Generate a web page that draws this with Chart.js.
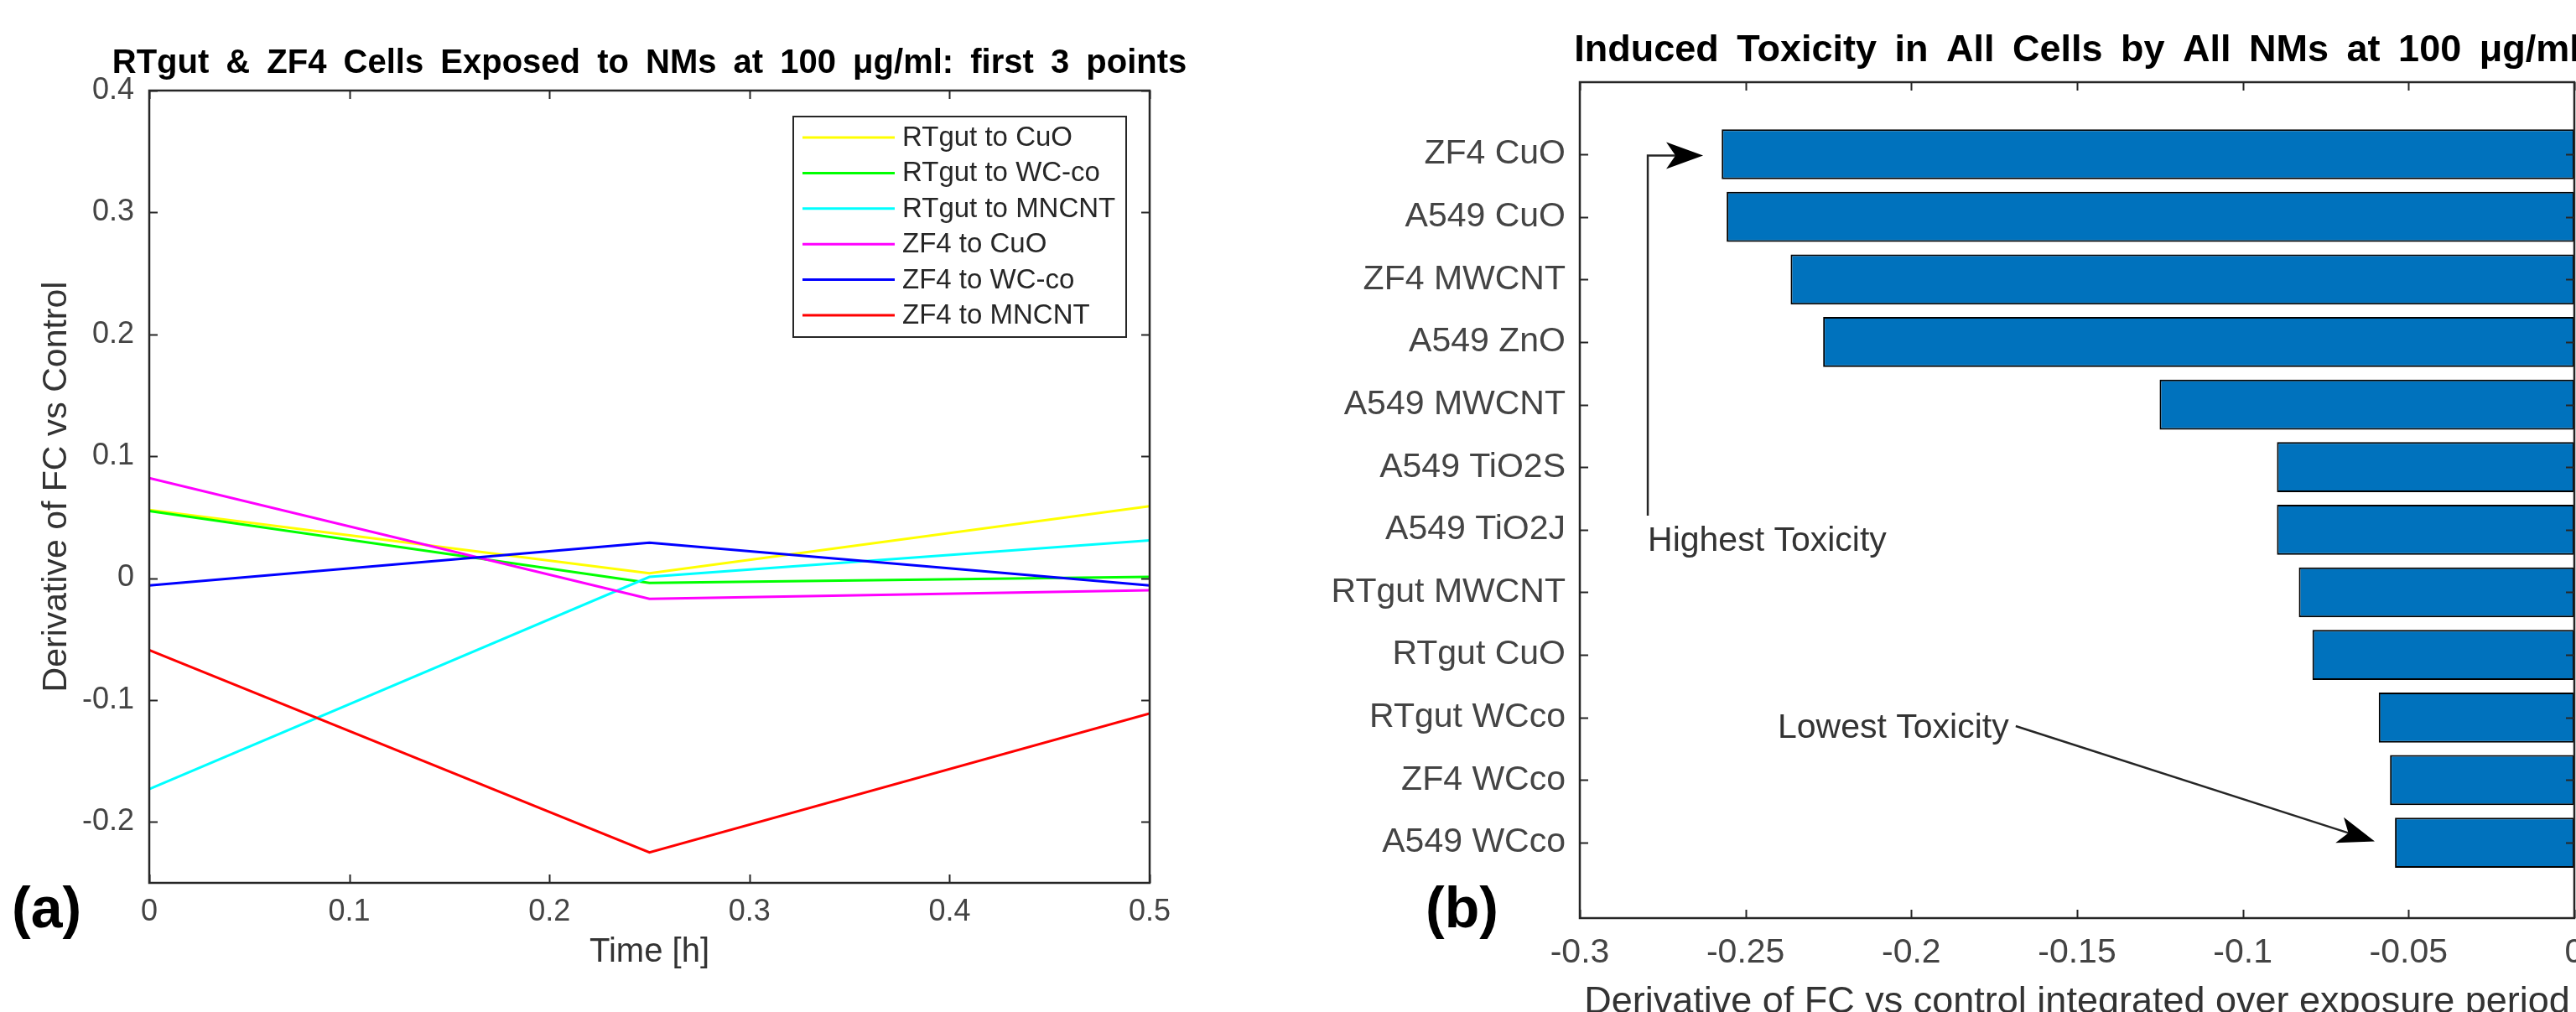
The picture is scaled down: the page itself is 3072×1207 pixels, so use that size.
<!DOCTYPE html>
<html><head><meta charset="utf-8">
<script src="https://cdn.jsdelivr.net/npm/chart.js@4.4.1/dist/chart.umd.min.js"></script>
<style>
html,body{margin:0;padding:0;background:#fff;overflow:hidden;width:3072px;height:1207px;position:relative;}
#wrapA{position:absolute;left:0;top:0;width:1450px;height:1300px;}
#wrapB{position:absolute;left:1480px;top:0;width:1720px;height:1300px;}
canvas{display:block;}
</style></head><body>
<div id="wrapA"><canvas id="cA" width="1450" height="1300"></canvas></div>
<div id="wrapB"><canvas id="cB" width="1720" height="1300"></canvas></div>
<script>
// ---------- data: panel (a) ----------
const timePoints = [0, 0.25, 0.5];
const seriesLabels = ['RTgut to CuO', 'RTgut to WC-co', 'RTgut to MNCNT', 'ZF4 to CuO', 'ZF4 to WC-co', 'ZF4 to MNCNT'];
const rtgutCuO   = [0.056, 0.004, 0.059];
const rtgutWCco  = [0.055, -0.004, 0.001];
const rtgutMNCNT = [-0.173, 0.001, 0.031];
const zf4CuO     = [0.082, -0.017, -0.010];
const zf4WCco    = [-0.006, 0.029, -0.006];
const zf4MNCNT   = [-0.059, -0.225, -0.111];
const lineColors = ['#ffff00', '#00ff00', '#00ffff', '#ff00ff', '#0000ff', '#ff0000'];
const xTicksA = [0, 0.1, 0.2, 0.3, 0.4, 0.5];
const xTickLabelsA = ['0', '0.1', '0.2', '0.3', '0.4', '0.5'];
const yTicksA = [-0.2, -0.1, 0, 0.1, 0.2, 0.3, 0.4];
const yTickLabelsA = ['-0.2', '-0.1', '0', '0.1', '0.2', '0.3', '0.4'];

// ---------- data: panel (b) ----------
const categories = ['ZF4 CuO', 'A549 CuO', 'ZF4 MWCNT', 'A549 ZnO', 'A549 MWCNT', 'A549 TiO2S', 'A549 TiO2J', 'RTgut MWCNT', 'RTgut CuO', 'RTgut WCco', 'ZF4 WCco', 'A549 WCco'];
const toxicity = [-0.2572, -0.2557, -0.2364, -0.2266, -0.1251, -0.0897, -0.0897, -0.0831, -0.0790, -0.0590, -0.0556, -0.0541];
const xTicksB = [-0.3, -0.25, -0.2, -0.15, -0.1, -0.05, 0];
const xTickLabelsB = ['-0.3', '-0.25', '-0.2', '-0.15', '-0.1', '-0.05', '0'];

// ---------- styling ----------
Chart.defaults.font.family = "'Liberation Sans', Arial, Helvetica, sans-serif";
Chart.defaults.color = '#444';
Chart.defaults.animation = false;
const FONT = "'Liberation Sans', Arial, Helvetica, sans-serif";
const AXIS_COLOR = '#262626';

// axes box with inward ticks (MATLAB style)
const framePlugin = {
  id: 'frame',
  afterDatasetsDraw(chart, args, opts) {
    const {ctx, chartArea: a, scales} = chart;
    const tl = opts.tickLen || 10;
    ctx.save();
    ctx.strokeStyle = AXIS_COLOR;
    ctx.lineWidth = 2;
    ctx.beginPath();
    scales.x.ticks.forEach(t => {
      const px = Math.round(scales.x.getPixelForValue(t.value)) + 0.5;
      ctx.moveTo(px, a.bottom); ctx.lineTo(px, a.bottom - tl);
      ctx.moveTo(px, a.top); ctx.lineTo(px, a.top + tl);
    });
    scales.y.ticks.forEach(t => {
      const py = Math.round(scales.y.getPixelForValue(t.value)) + 0.5;
      ctx.moveTo(a.left, py); ctx.lineTo(a.left + tl, py);
      ctx.moveTo(a.right, py); ctx.lineTo(a.right - tl, py);
    });
    ctx.stroke();
    ctx.lineWidth = 2.5;
    ctx.strokeRect(a.left, a.top, a.right - a.left, a.bottom - a.top);
    ctx.restore();
  }
};

function drawTitle(ctx, text, x, y, size, spacing) {
  ctx.save();
  ctx.font = 'bold ' + size + 'px ' + FONT;
  ctx.fillStyle = '#000';
  ctx.textAlign = 'center';
  ctx.textBaseline = 'alphabetic';
  if ('wordSpacing' in ctx) ctx.wordSpacing = spacing + 'px';
  ctx.fillText(text, x, y);
  ctx.restore();
}
function drawPanelLabel(ctx, text, x, y) {
  ctx.save();
  ctx.font = 'bold 68px ' + FONT;
  ctx.fillStyle = '#000';
  ctx.textAlign = 'left';
  ctx.textBaseline = 'alphabetic';
  ctx.fillText(text, x, y);
  ctx.restore();
}
function arrowHead(ctx, x0, y0, x1, y1) {
  const ang = Math.atan2(y1 - y0, x1 - x0);
  ctx.save();
  ctx.translate(x1, y1);
  ctx.rotate(ang);
  ctx.beginPath();
  ctx.moveTo(0, 0);
  ctx.lineTo(-44, -16);
  ctx.lineTo(-33, 0);
  ctx.lineTo(-44, 16);
  ctx.closePath();
  ctx.fillStyle = '#000';
  ctx.fill();
  ctx.restore();
}

// ---------- panel (a) ----------
const seriesA = [rtgutCuO, rtgutWCco, rtgutMNCNT, zf4CuO, zf4WCco, zf4MNCNT];
const dsA = seriesA.map((arr, i) => ({
  label: seriesLabels[i],
  data: timePoints.map((t, j) => ({x: t, y: arr[j]})),
  borderColor: lineColors[i],
  backgroundColor: lineColors[i],
  borderWidth: 3,
  pointRadius: 0,
  tension: 0,
  fill: false,
  order: seriesA.length - 1 - i
}));

const legendBoxA = {x: 946, y: 139, w: 397, h: 263, firstRow: 164, rowH: 42.4, lineX0: 957, lineX1: 1067, textX: 1076, size: 33};

const decoA = {
  id: 'decoA',
  afterDraw(chart) {
    const {ctx, chartArea: a} = chart;
    drawTitle(ctx, 'RTgut & ZF4 Cells Exposed to NMs at 100 \u03bcg/ml: first 3 points', (a.left + a.right) / 2, 87, 40, 9);
    // legend
    const L = legendBoxA;
    ctx.save();
    ctx.fillStyle = '#fff';
    ctx.fillRect(L.x, L.y, L.w, L.h);
    ctx.strokeStyle = AXIS_COLOR;
    ctx.lineWidth = 2;
    ctx.strokeRect(L.x, L.y, L.w, L.h);
    ctx.font = L.size + 'px ' + FONT;
    ctx.textBaseline = 'middle';
    ctx.textAlign = 'left';
    chart.data.datasets.forEach((ds, i) => {
      const y = L.firstRow + i * L.rowH;
      ctx.strokeStyle = ds.borderColor;
      ctx.lineWidth = 3;
      ctx.beginPath(); ctx.moveTo(L.lineX0, y); ctx.lineTo(L.lineX1, y); ctx.stroke();
      ctx.fillStyle = '#262626';
      ctx.fillText(ds.label, L.textX, y + 1);
    });
    ctx.restore();
    drawPanelLabel(ctx, '(a)', 14, 1106);
  }
};

new Chart(document.getElementById('cA'), {
  type: 'line',
  data: {datasets: dsA},
  options: {
    responsive: false,
    animation: false,
    layout: {padding: {left: 0, top: 108, right: 79, bottom: 0}},
    plugins: {legend: {display: false}, tooltip: {enabled: false}, title: {display: false}, frame: {tickLen: 10}},
    scales: {
      x: {
        type: 'linear', min: 0, max: 0.5, offset: false,
        afterBuildTicks: ax => { ax.ticks = xTicksA.map(v => ({value: v})); },
        afterFit: ax => { ax.height = 247; },
        grid: {display: false, drawTicks: false},
        border: {display: false},
        ticks: {padding: 13, font: {size: 36}, color: '#444', maxRotation: 0, autoSkip: false, callback: (v, i) => xTickLabelsA[i]},
        title: {display: true, text: 'Time [h]', font: {size: 40}, color: '#333', padding: {top: 0, bottom: 140}}
      },
      y: {
        type: 'linear', min: -0.25, max: 0.4, offset: false,
        afterBuildTicks: ax => { ax.ticks = yTicksA.map(v => ({value: v})); },
        afterFit: ax => { ax.width = 178; },
        grid: {display: false, drawTicks: false},
        border: {display: false},
        ticks: {padding: 18, font: {size: 36}, color: '#444', autoSkip: false, callback: (v, i) => yTickLabelsA[i]},
        title: {display: true, text: 'Derivative of FC vs Control', font: {size: 41}, color: '#333', padding: {top: 43, bottom: 0}}
      }
    }
  },
  plugins: [framePlugin, decoA]
});

// ---------- panel (b) ----------
const annotB = {
  high: {text: 'Highest Toxicity', lineX: -0.2795, lineFromY: 5.775, lineToY: 0.02, tipX: -0.2628, textX: -0.2795, textY: 6.337},
  low: {text: 'Lowest Toxicity', textX: -0.2403, textY: 9.325, fromX: -0.1685, fromY: 9.137, tipX: -0.0602, tipY: 10.98}
};

const decoB = {
  id: 'decoB',
  afterDraw(chart) {
    const {ctx, chartArea: a, scales: {x, y}} = chart;
    drawTitle(ctx, 'Induced Toxicity in All Cells by All NMs at 100 \u03bcg/ml', (a.left + a.right) / 2, 73, 45, 9);
    ctx.save();
    ctx.strokeStyle = AXIS_COLOR;
    ctx.lineWidth = 2.5;
    // highest toxicity elbow arrow
    const h = annotB.high;
    const hx = x.getPixelForValue(h.lineX), hy0 = y.getPixelForValue(h.lineFromY), hy1 = y.getPixelForValue(h.lineToY);
    const htx = x.getPixelForValue(h.tipX);
    ctx.beginPath();
    ctx.moveTo(hx, hy0); ctx.lineTo(hx, hy1); ctx.lineTo(htx - 30, hy1);
    ctx.stroke();
    arrowHead(ctx, hx, hy1, htx, hy1);
    // lowest toxicity arrow
    const l = annotB.low;
    const lx0 = x.getPixelForValue(l.fromX), ly0 = y.getPixelForValue(l.fromY);
    const lx1 = x.getPixelForValue(l.tipX), ly1 = y.getPixelForValue(l.tipY);
    const ang = Math.atan2(ly1 - ly0, lx1 - lx0);
    ctx.beginPath();
    ctx.moveTo(lx0, ly0); ctx.lineTo(lx1 - 30 * Math.cos(ang), ly1 - 30 * Math.sin(ang));
    ctx.stroke();
    arrowHead(ctx, lx0, ly0, lx1, ly1);
    // texts
    ctx.font = '41px ' + FONT;
    ctx.fillStyle = '#333';
    ctx.textAlign = 'left';
    ctx.textBaseline = 'alphabetic';
    ctx.fillText(h.text, x.getPixelForValue(h.textX), y.getPixelForValue(h.textY));
    ctx.fillText(l.text, x.getPixelForValue(l.textX), y.getPixelForValue(l.textY));
    ctx.restore();
    drawPanelLabel(ctx, '(b)', 220, 1106);
  }
};

new Chart(document.getElementById('cB'), {
  type: 'bar',
  data: {
    datasets: [{
      label: 'Toxicity',
      data: toxicity.map((v, i) => ({x: v, y: i})),
      backgroundColor: '#0072BD',
      borderColor: '#000',
      borderWidth: 2,
      borderSkipped: false,
      categoryPercentage: 1,
      barPercentage: 0.8
    }]
  },
  options: {
    indexAxis: 'y',
    responsive: false,
    animation: false,
    layout: {padding: {left: 0, top: 98, right: 130, bottom: 0}},
    plugins: {legend: {display: false}, tooltip: {enabled: false}, title: {display: false}, frame: {tickLen: 10}},
    scales: {
      x: {
        type: 'linear', min: -0.3, max: 0, offset: false,
        afterBuildTicks: ax => { ax.ticks = xTicksB.map(v => ({value: v})); },
        afterFit: ax => { ax.height = 205; },
        grid: {display: false, drawTicks: false, offset: false},
        border: {display: false},
        ticks: {padding: 17, font: {size: 41}, color: '#444', maxRotation: 0, autoSkip: false, callback: (v, i) => xTickLabelsB[i]},
        title: {display: true, text: 'Derivative of FC vs control integrated over exposure period', font: {size: 45}, color: '#333', padding: {top: 0, bottom: 77}}
      },
      y: {
        type: 'linear', min: -1.152, max: 12.205, reverse: true, offset: false,
        afterBuildTicks: ax => { ax.ticks = categories.map((c, i) => ({value: i})); },
        afterFit: ax => { ax.width = 404; },
        grid: {display: false, drawTicks: false, offset: false},
        border: {display: false},
        ticks: {padding: 17, font: {size: 41}, color: '#444', autoSkip: false, callback: (v, i) => categories[i]}
      }
    }
  },
  plugins: [framePlugin, decoB]
});
</script>
</body></html>
